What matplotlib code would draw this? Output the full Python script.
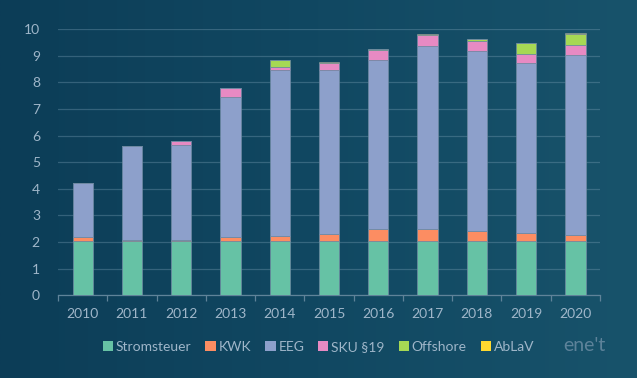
import numpy as np
import matplotlib
matplotlib.use("Agg")
import matplotlib.pyplot as plt

plt.rcParams['font.family'] = ['Lato', 'DejaVu Sans']

years = ['2010', '2011', '2012', '2013', '2014', '2015', '2016', '2017', '2018', '2019', '2020']
stromsteuer = [2.05, 2.05, 2.05, 2.05, 2.05, 2.05, 2.05, 2.05, 2.05, 2.05, 2.05]
kwk = [0.13, 0.03, 0.01, 0.13, 0.18, 0.25, 0.45, 0.44, 0.35, 0.28, 0.23]
eeg = [2.05, 3.53, 3.59, 5.28, 6.24, 6.17, 6.35, 6.88, 6.79, 6.41, 6.76]
sku19 = [0.0, 0.0, 0.15, 0.33, 0.09, 0.24, 0.38, 0.39, 0.37, 0.31, 0.36]
offshore = [0.0, 0.0, 0.0, 0.0, 0.27, 0.03, 0.04, 0.02, 0.05, 0.42, 0.42]
ablav = [0.0, 0.0, 0.0, 0.0, 0.02, 0.02, 0.0, 0.02, 0.02, 0.02, 0.02]

series = [('Stromsteuer', stromsteuer, '#66c2a5'),
          ('KWK', kwk, '#fc8d62'),
          ('EEG', eeg, '#8da0cb'),
          ('SKU §19', sku19, '#e78ac3'),
          ('Offshore', offshore, '#a6d854'),
          ('AbLaV', ablav, '#ffd92f')]

txt = '#9fb6c9'

fig = plt.figure(figsize=(6.37, 3.78), dpi=100)

# background gradient
bg = fig.add_axes([0, 0, 1, 1], zorder=-10)
grad = np.linspace(0, 1, 256).reshape(1, -1)
cmap = matplotlib.colors.LinearSegmentedColormap.from_list('bg', ['#0c3d57', '#114862', '#18536b'])
bg.imshow(grad, aspect='auto', cmap=cmap, extent=[0, 1, 0, 1])
bg.axis('off')

ax = fig.add_axes([0.091, 0.219, 0.851, 0.704])
ax.patch.set_alpha(0)

x = np.arange(len(years))
bottom = np.zeros(len(years))
for name, vals, col in series:
    ax.bar(x, vals, width=0.41, bottom=bottom, color=col, label=name,
           edgecolor='#6f8aa3', linewidth=0.5, zorder=3)
    bottom += np.array(vals)

ax.set_xlim(-0.5, len(years) - 0.5)
ax.set_ylim(0, 10)
ax.set_yticks(range(0, 11))
ax.set_xticks(x)
ax.set_xticklabels(years)
ax.grid(axis='y', color='#7fa3b8', alpha=0.35, linewidth=0.9, zorder=0)
for s in ['top', 'right', 'left']:
    ax.spines[s].set_visible(False)
ax.spines['bottom'].set_color('#5f8399')
ax.spines['bottom'].set_linewidth(0.9)
ax.tick_params(axis='y', length=0, colors=txt, labelsize=10, pad=13)
ax.tick_params(axis='x', length=0, colors=txt, labelsize=10, pad=9)
ax.set_xticks(np.arange(-0.5, len(years)), minor=True)
ax.tick_params(axis='x', which='minor', length=4, color='#5f8399', width=0.9)

leg = fig.legend(loc='center', bbox_to_anchor=(0.5, 0.082), ncol=6, frameon=False,
                 fontsize=10, handlelength=0.75, handleheight=0.75, handletextpad=0.2,
                 columnspacing=1.0, labelcolor=txt)
for h in leg.legend_handles:
    h.set_edgecolor('none')

fig.text(0.917, 0.085, "ene't", color='#6f8fa6', fontsize=14, ha='center', va='center',
         alpha=0.8)

fig.savefig('out.png', dpi=100)
